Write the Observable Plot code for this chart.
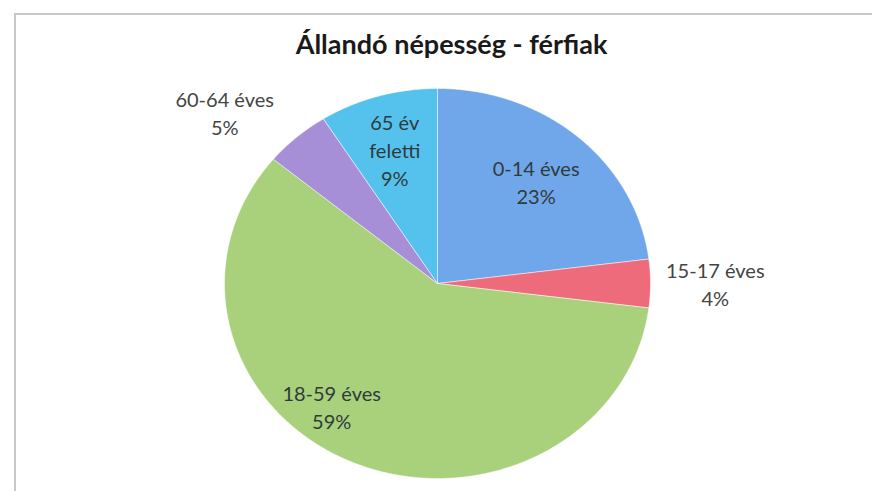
<!DOCTYPE html>
<html>
<head>
<meta charset="utf-8">
<script src="https://cdn.jsdelivr.net/npm/d3@7"></script>
<script src="https://cdn.jsdelivr.net/npm/@observablehq/plot@0.6"></script>
<style>
  html, body { margin: 0; padding: 0; background: #fff; }
  #wrap { position: relative; width: 872px; height: 491px; overflow: hidden; }
  #frame { position: absolute; left: 14px; top: 13px; width: 900px; height: 500px;
           border-top: 2px solid #c8c8c8; border-left: 2px solid #c8c8c8; }
  #chart { position: absolute; left: 0; top: 0; }
</style>
</head>
<body>
<div id="wrap"><div id="frame"></div><div id="chart"></div></div>
<script>
// ---- data ----
const title = "Állandó népesség - férfiak";
const categories = ["0-14 éves", "15-17 éves", "18-59 éves", "60-64 éves", "65 év feletti"];
const labelTexts = ["0-14 éves", "15-17 éves", "18-59 éves", "60-64 éves", "65 év\nfeletti"];
const shares = [23, 4, 59, 5, 9];
const colors = ["#6fa7ea", "#ee6b7c", "#a9d07b", "#a68fd6", "#55c2ee"];

// ---- build slices ----
const rows = categories.map((c, i) => ({cat: c, label: labelTexts[i], value: shares[i]}));
const arcs = d3.pie().sort(null).value(d => d.value)(rows);

const slicePts = [];
for (const a of arcs) {
  slicePts.push({cat: a.data.cat, x: 0, y: 0});
  const n = Math.max(2, Math.ceil((a.endAngle - a.startAngle) / (Math.PI / 360)));
  for (let k = 0; k <= n; k++) {
    const t = a.startAngle + (a.endAngle - a.startAngle) * k / n;
    slicePts.push({cat: a.data.cat, x: Math.sin(t), y: Math.cos(t)});
  }
  slicePts.push({cat: a.data.cat, x: 0, y: 0});
}

// label placement (layout): inside labels along mid-angle; small slices outside
const placement = {
  "0-14 éves": {r: 0.70, shift: 0, side: 0},
  "15-17 éves": {r: 1.06, shift: 0, side: 1},
  "18-59 éves": {r: 0.80, shift: 15, side: 0},
  "60-64 éves": {r: 1.17, shift: 0, side: -1},
  "65 év feletti": {r: 0.72, shift: 0, side: 0}
};
const labels = arcs.map(a => {
  const p = placement[a.data.cat];
  const mid = (a.startAngle + a.endAngle) / 2 + p.shift * Math.PI / 180;
  return {
    text: a.data.label + "\n" + a.data.value + "%",
    x: p.r * Math.sin(mid),
    y: p.r * Math.cos(mid),
    side: p.side
  };
});

const W = 872, H = 491;
const cx = 437, cy = 283, rx = 213, ry = 195;

const labelStyle = {fontSize: 20, lineHeight: 1.4, fontWeight: 400};

const plot = Plot.plot({
  width: W,
  height: H,
  marginLeft: cx - rx,
  marginRight: W - (cx + rx),
  marginTop: cy - ry,
  marginBottom: H - (cy + ry),
  x: {domain: [-1, 1], axis: null},
  y: {domain: [-1, 1], axis: null},
  color: {domain: categories, range: colors},
  style: {fontFamily: "Lato, 'Open Sans', sans-serif", background: "transparent", overflow: "visible"},
  marks: [
    Plot.line(slicePts, {x: "x", y: "y", z: "cat", fill: "cat", stroke: "#ffffff", strokeWidth: 1, strokeOpacity: 0.5}),
    Plot.text(labels.filter(d => d.side === 0), {
      x: "x", y: "y", text: "text", fill: "#2f3b3b", ...labelStyle
    }),
    Plot.text(labels.filter(d => d.side === 1), {
      x: "x", y: "y", text: "text", fill: "#444", ...labelStyle, dx: 52
    }),
    Plot.text(labels.filter(d => d.side === -1), {
      x: "x", y: "y", text: "text", fill: "#444", ...labelStyle, dx: -48
    }),
    Plot.text([title], {
      frameAnchor: "top", dx: 14, dy: -54, text: d => d, fontSize: 27, fontWeight: "bold", fill: "#1a1a1a"
    })
  ]
});
document.getElementById("chart").appendChild(plot);
</script>
</body>
</html>
